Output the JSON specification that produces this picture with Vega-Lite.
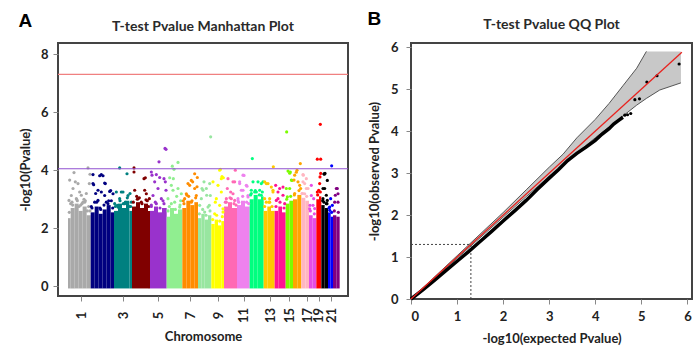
{
  "$schema": "https://vega.github.io/schema/vega-lite/v6.json",
  "padding": {"left": 18, "top": 10, "right": 0, "bottom": 0},
  "spacing": 17,
  "hconcat": [
    {
      "title": {"text": "A", "anchor": "start", "frame": "bounds", "font": "Liberation Sans", "fontSize": 19, "fontWeight": "bold", "color": "#000", "offset": 0, "dy": 12, "dx": 0},
      "vconcat": [
        {
          "title": {"text": "T-test Pvalue Manhattan Plot", "frame": "group", "anchor": "middle", "font": "Lato", "fontSize": 14, "fontWeight": "bold", "color": "#2a2a2a", "offset": 9},
          "width": 290,
          "height": 253,
          "layer": [
            {
              "data": {"name": "body"},
              "mark": {"type": "rect"},
              "encoding": {
                "x": {"field": "s", "type": "quantitative", "scale": {"domain": [-30, 840], "nice": false, "zero": false},
                  "axis": {"title": "Chromosome", "values": [39, 166, 271, 367, 450, 527, 607, 663, 717, 752, 790], "tickCount": 11,
                    "labelExpr": "['1','3','5','7','9','11','13','15','17','19','21'][indexof([39,166,271,367,450,527,607,663,717,752,790], datum.value)]",
                    "labelAngle": -90, "labelAlign": "center", "labelBaseline": "middle", "labelPadding": 14, "labelOverlap": false, "titlePadding": 8}},
                "x2": {"field": "e"},
                "y": {"field": "t", "type": "quantitative", "scale": {"domain": [-0.33, 8.38], "nice": false, "zero": false},
                  "axis": {"title": "-log10(Pvalue)", "values": [0, 2, 4, 6, 8], "labelPadding": 5, "titlePadding": 8}},
                "y2": {"datum": -0.07},
                "color": {"field": "c", "type": "nominal",
                  "scale": {"domain": [1,2,3,4,5,6,7,8,9,10,11,12,13,14,15,16,17,18,19,20,21,22],
                    "range": ["#a9a9a9","#000080","#008080","#800000","#9932cc","#90ee90","#ff8c00","#98e6a0","#ffff00","#ff69b4","#ee82ee","#00ff7f","#ffc800","#ff1493","#7cfc00","#ffa500","#ffb6c1","#e64ce6","#ff0000","#000000","#0000ff","#800080"]},
                  "legend": null}
              }
            },
            {
              "data": {"name": "pts"},
              "mark": {"type": "circle", "size": 10, "opacity": 1},
              "encoding": {
                "x": {"field": "x", "type": "quantitative"},
                "y": {"field": "y", "type": "quantitative"},
                "color": {"field": "c", "type": "nominal", "legend": null}
              }
            },
            {
              "data": {"name": "thr"},
              "mark": {"type": "rule", "strokeWidth": 1.2},
              "encoding": {
                "y": {"field": "p", "type": "quantitative"},
                "stroke": {"field": "level", "type": "nominal", "scale": {"domain": ["genome-wide", "suggestive"], "range": ["#f08080", "#9050d0"]}, "legend": null}
              }
            }
          ]
        }
      ]
    },
    {
      "title": {"text": "B", "anchor": "start", "frame": "bounds", "font": "Liberation Sans", "fontSize": 19, "fontWeight": "bold", "color": "#000", "offset": 0, "dy": 12, "dx": 0},
      "vconcat": [
        {
          "title": {"text": "T-test Pvalue QQ Plot", "frame": "group", "anchor": "middle", "font": "Lato", "fontSize": 14, "fontWeight": "bold", "color": "#2a2a2a", "offset": 9},
          "width": 281,
          "height": 256,
          "layer": [
            {
              "data": {"name": "band"},
              "mark": {"type": "area", "color": "#c8c8c8", "opacity": 1},
              "encoding": {
                "x": {"field": "e", "type": "quantitative", "scale": {"domain": [0, 6.1], "nice": false},
                  "axis": {"title": "-log10(expected Pvalue)", "values": [0,1,2,3,4,5,6], "tickCount": 7, "labelPadding": 6, "titlePadding": 9}},
                "y": {"field": "lo", "type": "quantitative", "scale": {"domain": [0, 6.1], "nice": false},
                  "axis": {"title": "-log10(observed Pvalue)", "values": [0,1,2,3,4,5,6], "tickCount": 7, "labelPadding": 8, "titlePadding": 9}},
                "y2": {"field": "hi"}
              }
            },
            {
              "data": {"name": "band"},
              "transform": [{"filter": "datum.e <= 5.11"}],
              "mark": {"type": "line", "color": "#555", "strokeWidth": 1},
              "encoding": {"x": {"field": "e", "type": "quantitative"}, "y": {"field": "hi", "type": "quantitative"}}
            },
            {
              "data": {"name": "band"},
              "mark": {"type": "line", "color": "#555", "strokeWidth": 1},
              "encoding": {"x": {"field": "e", "type": "quantitative"}, "y": {"field": "lo", "type": "quantitative"}}
            },
            {
              "data": {"name": "cut"},
              "mark": {"type": "rule", "color": "#444", "strokeDash": [2, 2], "strokeWidth": 1},
              "encoding": {"x": {"field": "a", "type": "quantitative"}, "x2": {"field": "a2"}, "y": {"field": "b", "type": "quantitative"}, "y2": {"field": "b2"}}
            },
            {
              "data": {"name": "obs"},
              "mark": {"type": "line", "color": "#000", "strokeWidth": 3.5},
              "encoding": {"x": {"field": "e", "type": "quantitative"}, "y": {"field": "o", "type": "quantitative"}}
            },
            {
              "data": {"name": "obs_tail"},
              "mark": {"type": "circle", "color": "#000", "size": 10, "opacity": 1},
              "encoding": {"x": {"field": "e", "type": "quantitative"}, "y": {"field": "o", "type": "quantitative"}}
            },
            {
              "data": {"name": "diag"},
              "mark": {"type": "line", "color": "#e8221e", "strokeWidth": 1.3},
              "encoding": {"x": {"field": "e", "type": "quantitative"}, "y": {"field": "o", "type": "quantitative"}}
            }
          ]
        }
      ]
    }
  ],
  "datasets": {
    "thr": [{"level": "genome-wide", "p": 7.3}, {"level": "suggestive", "p": 4.05}],
    "body": [
      {"c":1,"s":0,"e":8,"t":2.35},{"c":1,"s":8,"e":20,"t":2.7},{"c":1,"s":20,"e":32,"t":2.85},{"c":1,"s":32,"e":44,"t":2.6},{"c":1,"s":44,"e":56,"t":2.75},{"c":1,"s":56,"e":68,"t":2.45},
      {"c":2,"s":68,"e":80,"t":2.55},{"c":2,"s":80,"e":92,"t":2.75},{"c":2,"s":92,"e":104,"t":2.5},{"c":2,"s":104,"e":116,"t":2.65},{"c":2,"s":116,"e":128,"t":2.8},{"c":2,"s":128,"e":138,"t":2.55},
      {"c":3,"s":138,"e":150,"t":2.6},{"c":3,"s":150,"e":162,"t":2.85},{"c":3,"s":162,"e":174,"t":2.7},{"c":3,"s":174,"e":184,"t":2.95},{"c":3,"s":184,"e":192,"t":2.6},
      {"c":4,"s":192,"e":204,"t":2.75},{"c":4,"s":204,"e":216,"t":2.9},{"c":4,"s":216,"e":228,"t":2.7},{"c":4,"s":228,"e":240,"t":2.85},{"c":4,"s":240,"e":246,"t":2.6},
      {"c":5,"s":246,"e":258,"t":2.6},{"c":5,"s":258,"e":270,"t":2.75},{"c":5,"s":270,"e":282,"t":2.55},{"c":5,"s":282,"e":296,"t":2.7},
      {"c":6,"s":296,"e":306,"t":2.4},{"c":6,"s":306,"e":318,"t":2.7},{"c":6,"s":318,"e":330,"t":2.5},{"c":6,"s":330,"e":343,"t":2.65},
      {"c":7,"s":343,"e":355,"t":2.7},{"c":7,"s":355,"e":367,"t":2.95},{"c":7,"s":367,"e":379,"t":2.8},{"c":7,"s":379,"e":390,"t":2.9},
      {"c":8,"s":390,"e":400,"t":2.35},{"c":8,"s":400,"e":410,"t":2.5},{"c":8,"s":410,"e":420,"t":2.3},{"c":8,"s":420,"e":430,"t":2.45},
      {"c":9,"s":430,"e":440,"t":2.15},{"c":9,"s":440,"e":450,"t":2.3},{"c":9,"s":450,"e":460,"t":2.1},{"c":9,"s":460,"e":468,"t":2.25},
      {"c":10,"s":468,"e":480,"t":2.75},{"c":10,"s":480,"e":492,"t":2.9},{"c":10,"s":492,"e":507,"t":2.7},
      {"c":11,"s":507,"e":519,"t":2.8},{"c":11,"s":519,"e":531,"t":2.95},{"c":11,"s":531,"e":545,"t":2.75},
      {"c":12,"s":545,"e":557,"t":3.0},{"c":12,"s":557,"e":569,"t":3.15},{"c":12,"s":569,"e":579,"t":3.0},{"c":12,"s":579,"e":587,"t":3.1},
      {"c":13,"s":587,"e":598,"t":2.6},{"c":13,"s":598,"e":609,"t":2.75},{"c":13,"s":609,"e":620,"t":2.6},
      {"c":14,"s":620,"e":631,"t":2.6},{"c":14,"s":631,"e":642,"t":2.75},{"c":14,"s":642,"e":653,"t":2.55},
      {"c":15,"s":653,"e":664,"t":2.85},{"c":15,"s":664,"e":675,"t":2.95},
      {"c":16,"s":675,"e":688,"t":3.0},{"c":16,"s":688,"e":700,"t":3.15},
      {"c":17,"s":700,"e":712,"t":3.05},{"c":17,"s":712,"e":723,"t":2.95},
      {"c":18,"s":723,"e":734,"t":2.45},{"c":18,"s":734,"e":745,"t":2.35},
      {"c":19,"s":745,"e":753,"t":3.0},{"c":19,"s":753,"e":760,"t":3.1},
      {"c":20,"s":760,"e":770,"t":2.8},{"c":20,"s":770,"e":780,"t":2.7},
      {"c":21,"s":780,"e":788,"t":2.55},{"c":21,"s":788,"e":795,"t":2.4},
      {"c":22,"s":795,"e":805,"t":2.45},{"c":22,"s":805,"e":815,"t":2.4}
    ],
    "pts": [
      {"c":1,"x":18,"y":3.92},{"c":1,"x":60,"y":4.08},{"c":1,"x":66,"y":3.86},{"c":1,"x":5,"y":3.66},{"c":1,"x":22,"y":3.6},{"c":1,"x":30,"y":3.54},{"c":1,"x":15,"y":3.37},{"c":1,"x":3,"y":2.96},{"c":1,"x":40,"y":3.14},{"c":1,"x":55,"y":3.2},{"c":1,"x":64,"y":3.54},{"c":1,"x":10,"y":3.13},{"c":1,"x":25,"y":3.02},{"c":1,"x":45,"y":2.9},{"c":1,"x":52,"y":2.95},{"c":1,"x":35,"y":3.25},{"c":1,"x":8,"y":2.85},{"c":1,"x":28,"y":2.95},{"c":1,"x":48,"y":3.0},{"c":1,"x":62,"y":2.75},{"c":1,"x":14,"y":2.8},{"c":1,"x":38,"y":2.8},
      {"c":1,"x":4,"y":2.55},{"c":1,"x":12,"y":2.9},{"c":1,"x":26,"y":3.0},{"c":1,"x":33,"y":2.75},{"c":1,"x":42,"y":2.85},{"c":1,"x":50,"y":2.9},{"c":1,"x":58,"y":2.6},{"c":1,"x":66,"y":2.6},
      {"c":2,"x":75,"y":3.85},{"c":2,"x":100,"y":3.85},{"c":2,"x":110,"y":3.56},{"c":2,"x":75,"y":3.54},{"c":2,"x":90,"y":3.31},{"c":2,"x":125,"y":3.27},{"c":2,"x":135,"y":3.19},{"c":2,"x":110,"y":3.13},{"c":2,"x":80,"y":2.9},{"c":2,"x":120,"y":2.85},{"c":2,"x":95,"y":3.81},{"c":2,"x":105,"y":3.81},{"c":2,"x":77,"y":3.5},{"c":2,"x":112,"y":3.54},{"c":2,"x":83,"y":3.2},{"c":2,"x":100,"y":3.25},{"c":2,"x":128,"y":3.3},{"c":2,"x":90,"y":2.96},{"c":2,"x":115,"y":2.9},{"c":2,"x":130,"y":2.95},{"c":2,"x":72,"y":2.7},{"c":2,"x":98,"y":2.65},
      {"c":2,"x":70,"y":2.75},{"c":2,"x":86,"y":2.9},{"c":2,"x":96,"y":2.7},{"c":2,"x":108,"y":2.8},{"c":2,"x":122,"y":2.95},{"c":2,"x":134,"y":2.7},
      {"c":3,"x":155,"y":4.08},{"c":3,"x":177,"y":3.88},{"c":3,"x":145,"y":3.25},{"c":3,"x":165,"y":3.25},{"c":3,"x":180,"y":3.13},{"c":3,"x":155,"y":3.02},{"c":3,"x":170,"y":2.85},{"c":3,"x":185,"y":2.75},{"c":3,"x":150,"y":2.73},{"c":3,"x":160,"y":3.25},{"c":3,"x":186,"y":3.2},{"c":3,"x":172,"y":2.9},{"c":3,"x":148,"y":2.79},{"c":3,"x":140,"y":2.85},{"c":3,"x":190,"y":2.9},
      {"c":3,"x":142,"y":2.75},{"c":3,"x":156,"y":2.95},{"c":3,"x":166,"y":2.85},{"c":3,"x":178,"y":3.05},{"c":3,"x":188,"y":2.75},
      {"c":4,"x":198,"y":4.08},{"c":4,"x":198,"y":3.94},{"c":4,"x":232,"y":3.74},{"c":4,"x":200,"y":3.31},{"c":4,"x":230,"y":3.31},{"c":4,"x":235,"y":3.19},{"c":4,"x":210,"y":3.02},{"c":4,"x":220,"y":2.9},{"c":4,"x":228,"y":3.71},{"c":4,"x":244,"y":3.02},{"c":4,"x":206,"y":3.1},{"c":4,"x":214,"y":3.05},{"c":4,"x":238,"y":2.95},
      {"c":4,"x":196,"y":2.9},{"c":4,"x":208,"y":3.0},{"c":4,"x":222,"y":2.85},{"c":4,"x":234,"y":2.98},{"c":4,"x":242,"y":2.75},
      {"c":5,"x":250,"y":3.94},{"c":5,"x":252,"y":3.83},{"c":5,"x":265,"y":3.85},{"c":5,"x":260,"y":3.6},{"c":5,"x":288,"y":3.71},{"c":5,"x":292,"y":3.6},{"c":5,"x":270,"y":3.37},{"c":5,"x":294,"y":3.31},{"c":5,"x":255,"y":3.13},{"c":5,"x":280,"y":3.02},{"c":5,"x":265,"y":2.85},{"c":5,"x":273,"y":4.29},{"c":5,"x":291,"y":4.75},{"c":5,"x":294,"y":4.72},{"c":5,"x":275,"y":3.75},{"c":5,"x":285,"y":2.95},{"c":5,"x":250,"y":2.8},
      {"c":5,"x":250,"y":2.75},{"c":5,"x":262,"y":2.9},{"c":5,"x":276,"y":2.7},{"c":5,"x":288,"y":2.85},
      {"c":6,"x":305,"y":3.74},{"c":6,"x":315,"y":3.31},{"c":6,"x":330,"y":3.37},{"c":6,"x":340,"y":3.19},{"c":6,"x":300,"y":3.02},{"c":6,"x":320,"y":2.9},{"c":6,"x":310,"y":3.48},{"c":6,"x":335,"y":2.73},{"c":6,"x":313,"y":4.14},{"c":6,"x":330,"y":4.27},{"c":6,"x":318,"y":4.03},{"c":6,"x":316,"y":3.71},{"c":6,"x":326,"y":3.1},{"c":6,"x":304,"y":2.75},{"c":6,"x":338,"y":2.95},
      {"c":6,"x":300,"y":2.6},{"c":6,"x":310,"y":2.85},{"c":6,"x":322,"y":2.65},{"c":6,"x":336,"y":2.8},
      {"c":7,"x":380,"y":3.88},{"c":7,"x":370,"y":3.65},{"c":7,"x":365,"y":3.48},{"c":7,"x":380,"y":3.37},{"c":7,"x":355,"y":3.19},{"c":7,"x":385,"y":3.13},{"c":7,"x":350,"y":3.02},{"c":7,"x":370,"y":2.9},{"c":7,"x":388,"y":3.75},{"c":7,"x":360,"y":3.54},{"c":7,"x":374,"y":3.6},{"c":7,"x":387,"y":3.43},{"c":7,"x":357,"y":3.14},{"c":7,"x":346,"y":2.95},
      {"c":7,"x":348,"y":2.85},{"c":7,"x":362,"y":3.1},{"c":7,"x":372,"y":2.95},{"c":7,"x":383,"y":3.05},
      {"c":8,"x":400,"y":3.02},{"c":8,"x":415,"y":3.37},{"c":8,"x":425,"y":3.54},{"c":8,"x":405,"y":3.31},{"c":8,"x":395,"y":2.79},{"c":8,"x":420,"y":2.73},{"c":8,"x":410,"y":2.56},{"c":8,"x":427,"y":3.13},{"c":8,"x":428,"y":5.15},{"c":8,"x":402,"y":3.37},{"c":8,"x":416,"y":3.14},{"c":8,"x":408,"y":3.6},{"c":8,"x":424,"y":2.79},
      {"c":8,"x":394,"y":2.5},{"c":8,"x":404,"y":2.65},{"c":8,"x":414,"y":2.45},{"c":8,"x":426,"y":2.6},
      {"c":9,"x":455,"y":4.0},{"c":9,"x":460,"y":3.71},{"c":9,"x":435,"y":3.6},{"c":9,"x":445,"y":3.02},{"c":9,"x":455,"y":2.79},{"c":9,"x":465,"y":2.67},{"c":9,"x":440,"y":2.5},{"c":9,"x":457,"y":4.03},{"c":9,"x":462,"y":3.78},{"c":9,"x":466,"y":3.74},{"c":9,"x":450,"y":3.48},{"c":9,"x":460,"y":3.25},{"c":9,"x":442,"y":2.9},{"c":9,"x":465,"y":2.56},
      {"c":9,"x":434,"y":2.3},{"c":9,"x":446,"y":2.45},{"c":9,"x":455,"y":2.25},{"c":9,"x":463,"y":2.4},
      {"c":10,"x":502,"y":4.0},{"c":10,"x":478,"y":3.37},{"c":10,"x":490,"y":3.02},{"c":10,"x":500,"y":3.6},{"c":10,"x":475,"y":2.9},{"c":10,"x":495,"y":3.19},{"c":10,"x":480,"y":3.71},{"c":10,"x":495,"y":3.6},{"c":10,"x":488,"y":3.25},{"c":10,"x":475,"y":3.02},{"c":10,"x":500,"y":2.96},
      {"c":10,"x":472,"y":2.9},{"c":10,"x":486,"y":3.05},{"c":10,"x":498,"y":2.85},{"c":10,"x":504,"y":2.8},
      {"c":11,"x":525,"y":3.83},{"c":11,"x":515,"y":3.6},{"c":11,"x":535,"y":3.48},{"c":11,"x":520,"y":3.31},{"c":11,"x":540,"y":3.13},{"c":11,"x":510,"y":3.02},{"c":11,"x":528,"y":3.82},{"c":11,"x":515,"y":3.54},{"c":11,"x":537,"y":3.45},{"c":11,"x":525,"y":3.31},{"c":11,"x":540,"y":3.08},{"c":11,"x":512,"y":2.9},
      {"c":11,"x":510,"y":2.95},{"c":11,"x":524,"y":3.1},{"c":11,"x":536,"y":2.9},{"c":11,"x":542,"y":2.85},
      {"c":12,"x":553,"y":4.4},{"c":12,"x":555,"y":3.6},{"c":12,"x":570,"y":3.6},{"c":12,"x":580,"y":3.54},{"c":12,"x":565,"y":3.25},{"c":12,"x":550,"y":3.31},{"c":12,"x":575,"y":3.31},{"c":12,"x":585,"y":3.6},{"c":12,"x":560,"y":3.25},{"c":12,"x":580,"y":3.14},{"c":12,"x":550,"y":3.2},
      {"c":12,"x":548,"y":3.15},{"c":12,"x":562,"y":3.3},{"c":12,"x":574,"y":3.15},{"c":12,"x":583,"y":3.25},
      {"c":13,"x":616,"y":4.12},{"c":13,"x":595,"y":3.54},{"c":13,"x":610,"y":3.42},{"c":13,"x":590,"y":3.02},{"c":13,"x":605,"y":2.9},{"c":13,"x":615,"y":3.25},{"c":13,"x":590,"y":3.6},{"c":13,"x":600,"y":3.54},{"c":13,"x":615,"y":3.31},{"c":13,"x":605,"y":3.02},{"c":13,"x":595,"y":2.9},
      {"c":13,"x":590,"y":2.75},{"c":13,"x":603,"y":2.9},{"c":13,"x":612,"y":2.75},
      {"c":14,"x":630,"y":3.25},{"c":14,"x":645,"y":3.42},{"c":14,"x":625,"y":2.96},{"c":14,"x":650,"y":2.85},{"c":14,"x":623,"y":3.48},{"c":14,"x":635,"y":3.37},{"c":14,"x":645,"y":3.14},{"c":14,"x":630,"y":3.02},
      {"c":14,"x":624,"y":2.75},{"c":14,"x":636,"y":2.9},{"c":14,"x":648,"y":2.7},
      {"c":15,"x":656,"y":5.32},{"c":15,"x":667,"y":3.94},{"c":15,"x":665,"y":3.9},{"c":15,"x":672,"y":3.65},{"c":15,"x":655,"y":3.37},{"c":15,"x":660,"y":3.97},{"c":15,"x":670,"y":3.66},{"c":15,"x":665,"y":3.37},{"c":15,"x":658,"y":3.08},
      {"c":15,"x":656,"y":3.0},{"c":15,"x":668,"y":3.1},
      {"c":16,"x":687,"y":4.0},{"c":16,"x":697,"y":4.23},{"c":16,"x":685,"y":3.93},{"c":16,"x":680,"y":3.83},{"c":16,"x":690,"y":3.6},{"c":16,"x":698,"y":3.37},{"c":16,"x":678,"y":3.66},{"c":16,"x":695,"y":3.48},{"c":16,"x":680,"y":3.2},
      {"c":16,"x":679,"y":3.15},{"c":16,"x":693,"y":3.3},
      {"c":17,"x":705,"y":3.85},{"c":17,"x":705,"y":3.6},{"c":17,"x":715,"y":3.37},{"c":17,"x":710,"y":3.19},{"c":17,"x":715,"y":3.71},{"c":17,"x":710,"y":3.54},{"c":17,"x":720,"y":3.37},{"c":17,"x":702,"y":3.2},{"c":17,"x":706,"y":3.83},
      {"c":17,"x":704,"y":3.2},{"c":17,"x":716,"y":3.1},
      {"c":18,"x":730,"y":3.13},{"c":18,"x":735,"y":2.79},{"c":18,"x":725,"y":2.67},{"c":18,"x":730,"y":3.48},{"c":18,"x":737,"y":3.02},{"c":18,"x":726,"y":2.79},{"c":18,"x":740,"y":2.68},
      {"c":18,"x":727,"y":2.6},{"c":18,"x":739,"y":2.5},
      {"c":19,"x":757,"y":5.58},{"c":19,"x":748,"y":4.38},{"c":19,"x":758,"y":4.38},{"c":19,"x":756,"y":3.77},{"c":19,"x":755,"y":3.54},{"c":19,"x":748,"y":3.25},{"c":19,"x":758,"y":3.89},{"c":19,"x":752,"y":3.31},
      {"c":19,"x":749,"y":3.15},{"c":19,"x":757,"y":3.25},
      {"c":20,"x":769,"y":3.86},{"c":20,"x":768,"y":3.88},{"c":20,"x":778,"y":3.65},{"c":20,"x":770,"y":3.37},{"c":20,"x":765,"y":3.02},{"c":20,"x":777,"y":2.85},{"c":20,"x":771,"y":3.89},{"c":20,"x":765,"y":3.37},{"c":20,"x":775,"y":3.14},{"c":20,"x":768,"y":2.9},{"c":20,"x":778,"y":2.96},
      {"c":20,"x":764,"y":2.95},{"c":20,"x":775,"y":2.85},
      {"c":21,"x":791,"y":4.15},{"c":21,"x":788,"y":3.02},{"c":21,"x":785,"y":2.73},{"c":21,"x":793,"y":2.79},{"c":21,"x":785,"y":2.62},
      {"c":21,"x":783,"y":2.7},{"c":21,"x":791,"y":2.55},
      {"c":22,"x":805,"y":3.37},{"c":22,"x":810,"y":3.19},{"c":22,"x":800,"y":2.9},{"c":22,"x":808,"y":3.37},{"c":22,"x":802,"y":3.14},{"c":22,"x":810,"y":2.9},
      {"c":22,"x":799,"y":2.6},{"c":22,"x":811,"y":2.55}
    ],
    "band": [
      {"e":0,"lo":0,"hi":0},{"e":1,"lo":0.97,"hi":1.03},{"e":2,"lo":1.95,"hi":2.06},{"e":2.5,"lo":2.44,"hi":2.6},{"e":3,"lo":2.92,"hi":3.14},{"e":3.3,"lo":3.2,"hi":3.45},{"e":3.6,"lo":3.48,"hi":3.84},{"e":4,"lo":3.84,"hi":4.28},{"e":4.3,"lo":4.1,"hi":4.66},{"e":4.6,"lo":4.36,"hi":5.08},{"e":4.9,"lo":4.62,"hi":5.5},{"e":5.11,"lo":4.78,"hi":5.9},{"e":5.4,"lo":4.98,"hi":5.9},{"e":5.86,"lo":5.15,"hi":5.9}
    ],
    "obs": [
      {"e":0,"o":0},{"e":0.25,"o":0.21},{"e":0.5,"o":0.44},{"e":0.75,"o":0.67},{"e":1.0,"o":0.9},{"e":1.25,"o":1.13},{"e":1.5,"o":1.37},{"e":1.75,"o":1.61},{"e":2.0,"o":1.86},{"e":2.25,"o":2.1},{"e":2.5,"o":2.35},{"e":2.75,"o":2.62},{"e":3.0,"o":2.88},{"e":3.2,"o":3.08},{"e":3.4,"o":3.3},{"e":3.6,"o":3.47},{"e":3.8,"o":3.62},{"e":4.0,"o":3.78},{"e":4.15,"o":3.93},{"e":4.3,"o":4.06},{"e":4.4,"o":4.17},{"e":4.5,"o":4.25},{"e":4.6,"o":4.33}
    ],
    "obs_tail": [
      {"e":4.64,"o":4.38},{"e":4.7,"o":4.39},{"e":4.77,"o":4.42},{"e":4.86,"o":4.75},{"e":4.96,"o":4.77},{"e":5.12,"o":5.17},{"e":5.34,"o":5.32},{"e":5.82,"o":5.6}
    ],
    "diag": [{"e":0,"o":0},{"e":5.88,"o":5.88}],
    "cut": [{"a":0,"a2":1.3,"b":1.3,"b2":1.3},{"a":1.3,"a2":1.3,"b":0,"b2":1.3}]
  },
  "config": {
    "view": {"stroke": "#444", "strokeWidth": 2},
    "font": "Lato",
    "axis": {"labelFont": "Lato", "labelFontWeight": "bold", "labelFontSize": 13, "labelColor": "#222", "titleFont": "Lato", "titleFontWeight": "bold", "titleFontSize": 13, "titleColor": "#222", "domain": false, "grid": false, "tickColor": "#888", "tickSize": 5, "tickWidth": 1}
  }
}
